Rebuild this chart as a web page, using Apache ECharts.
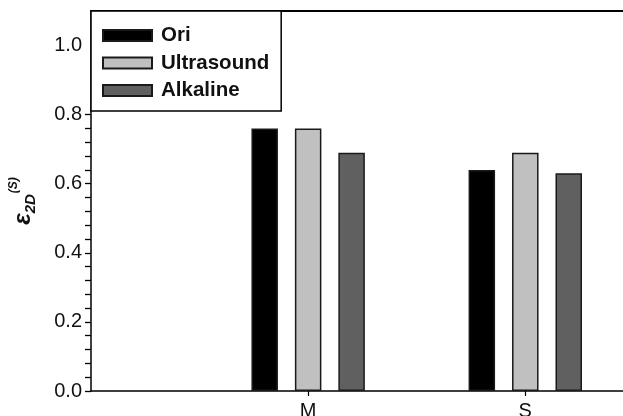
<!DOCTYPE html>
<html>
<head>
<meta charset="utf-8">
<script src="https://cdn.jsdelivr.net/npm/echarts@6/dist/echarts.min.js"></script>
<style>
html,body{margin:0;padding:0;background:#fff;}
#chart{width:623px;height:416px;}
</style>
</head>
<body>
<div id="chart"></div>
<script>
// ---- data ----
var categories = ['M', 'S'];
var categoryPositions = [1, 2];
var seriesNames = ['Ori', 'Ultrasound', 'Alkaline'];
var oriValues = [0.76, 0.64];
var ultrasoundValues = [0.76, 0.69];
var alkalineValues = [0.69, 0.63];
var yLabelValues = [0, 0.2, 0.4, 0.6, 0.8, 1.0];
var yTickValues = [0, 0.04, 0.08, 0.12, 0.16, 0.2, 0.24, 0.28, 0.32, 0.36, 0.4,
                   0.44, 0.48, 0.52, 0.56, 0.6, 0.64, 0.68, 0.72, 0.76, 0.8];

var FONT = 'Liberation Sans, Arial, sans-serif';
var colors = ['#000000', '#c0c0c0', '#606060'];

function pairs(vals) {
  return vals.map(function (v, i) { return [categoryPositions[i], v]; });
}
var valueSets = [oriValues, ultrasoundValues, alkalineValues];

var chart = echarts.init(document.getElementById('chart'), null, {renderer: 'canvas'});
chart.setOption({
  animation: false,
  backgroundColor: '#ffffff',
  grid: {left: 91, top: 11, right: 0, bottom: 25, containLabel: false, outerBoundsMode: 'none'},
  legend: {
    orient: 'vertical',
    left: 91, top: 11,
    padding: [14, 12, 10, 11],
    itemGap: 6.5,
    itemWidth: 49, itemHeight: 11,
    borderColor: '#000', borderWidth: 1.5,
    backgroundColor: '#fff',
    icon: 'rect',
    textStyle: {fontFamily: FONT, fontSize: 20.5, fontWeight: 'bold', color: '#111', lineHeight: 20, padding: [0, 0, 0, 4]},
    data: seriesNames
  },
  xAxis: [{
    type: 'value', min: 0, max: 2.45, interval: 1,
    splitLine: {show: false},
    axisLine: {show: true, lineStyle: {color: '#000', width: 1.5}},
    axisTick: {show: true, length: 5, lineStyle: {color: '#000', width: 1.2}, customValues: categoryPositions},
    axisLabel: {
      customValues: categoryPositions,
      fontFamily: FONT, fontSize: 20, color: '#111', margin: 10,
      formatter: function (v) {
        var i = categoryPositions.indexOf(v);
        return i >= 0 ? categories[i] : '';
      }
    }
  }, {
    type: 'value', position: 'top', min: 0, max: 2.45,
    splitLine: {show: false},
    axisLine: {show: true, lineStyle: {color: '#000', width: 2}},
    axisTick: {show: false}, axisLabel: {show: false}
  }],
  yAxis: {
    type: 'value', min: 0, max: 1.1, interval: 0.2,
    splitLine: {show: false},
    axisLine: {show: true, lineStyle: {color: '#000', width: 1.5}},
    axisTick: {show: true, length: 6, lineStyle: {color: '#000', width: 1.3}, customValues: yTickValues},
    axisLabel: {
      customValues: yLabelValues,
      fontFamily: FONT, fontSize: 20, color: '#111', margin: 9,
      formatter: function (v) { return v.toFixed(1); }
    },
    name: '{e|ε}{sub|2D}{sup|(S)}',
    nameLocation: 'middle',
    nameRotate: 90,
    nameGap: 53,
    nameTextStyle: {
      fontFamily: FONT,
      rich: {
        e: {fontFamily: FONT, fontSize: 24, fontStyle: 'italic', fontWeight: 'bold', color: '#111', lineHeight: 30},
        sub: {fontFamily: FONT, fontSize: 15, fontWeight: 'bold', fontStyle: 'italic', color: '#111', verticalAlign: 'bottom', padding: [6, 0, 0, 0]},
        sup: {fontFamily: FONT, fontSize: 12, fontWeight: 'bold', fontStyle: 'italic', color: '#111', verticalAlign: 'top', padding: [0, 0, 6, 1]}
      }
    }
  },
  series: seriesNames.map(function (name, k) {
    return {
      name: name,
      type: 'bar',
      barWidth: 26.5,
      barGap: '64%',
      itemStyle: {color: colors[k], borderColor: '#1a1a1a', borderWidth: 1.5},
      data: pairs(valueSets[k])
    };
  })
});
</script>
</body>
</html>
